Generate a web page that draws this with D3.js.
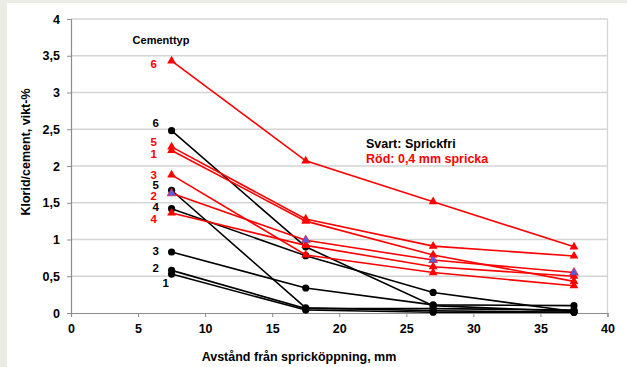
<!DOCTYPE html>
<html>
<head>
<meta charset="utf-8">
<script src="https://cdn.jsdelivr.net/npm/d3@7"></script>
<style>
  body { margin: 0; background: #ecece7; }
  text { font-family: "Liberation Sans", Arial, sans-serif; font-weight: bold; }
</style>
</head>
<body>
<div id="chart-container"></div>
<script>
'use strict';

// distances (mm)
const distances = [7.5, 17.5, 27, 37.5];
const cementTypes = ['1', '2', '3', '4', '5', '6'];

// black: crack free
const blackValues = [
  [0.53, 0.04, 0.01, 0.01],
  [0.58, 0.06, 0.06, 0.04],
  [0.83, 0.34, 0.11, 0.10],
  [1.42, 0.78, 0.28, 0.02],
  [1.67, 0.07, 0.03, 0.01],
  [2.48, 0.90, 0.10, 0.02]
];
// red: 0.4 mm crack
const redValues = [
  [2.21, 1.25, 0.79, 0.43],
  [1.63, 0.99, 0.72, 0.55],
  [1.88, 0.79, 0.55, 0.37],
  [1.36, 0.92, 0.63, 0.50],
  [2.26, 1.28, 0.91, 0.775],
  [3.43, 2.07, 1.515, 0.90]
];

const xTicks = [0, 5, 10, 15, 20, 25, 30, 35, 40];
const yTicks = [0, 0.5, 1, 1.5, 2, 2.5, 3, 3.5, 4];

// label nudges (px) so the type numbers don't collide
const blackNudge = [[10, 9], [0, -3], [0, -1], [0, -2], [0, -5], [0, -8]];
const redNudge = [[0, 3], [0, 3], [0, 0], [0, 6], [0, -5], [0, 3]];

const width = 627, height = 367;
const svg = d3.select('#chart-container')
  .append('svg')
  .attr('width', width)
  .attr('height', height);

svg.append('rect').attr('x', 7).attr('y', 3)
  .attr('width', width - 7).attr('height', height - 3)
  .attr('fill', '#ffffff');

const x = d3.scaleLinear().domain([0, 40]).range([71, 607.5]);
const y = d3.scaleLinear().domain([0, 4]).range([313, 19]);

// gridlines
svg.append('g').selectAll('line')
  .data(yTicks.slice(1))
  .enter().append('line')
  .attr('x1', x(0)).attr('x2', x(40))
  .attr('y1', d => y(d)).attr('y2', d => y(d))
  .attr('stroke', '#d4d4d4').attr('stroke-width', 1.3);

// right border
svg.append('line')
  .attr('x1', x(40)).attr('x2', x(40))
  .attr('y1', y(4)).attr('y2', y(0))
  .attr('stroke', '#d4d4d4').attr('stroke-width', 1.3);

const fmt = d => String(d).replace('.', ',');

const xAxis = svg.append('g')
  .attr('transform', 'translate(0,' + y(0) + ')')
  .call(d3.axisBottom(x).tickValues(xTicks).tickSize(4).tickPadding(7).tickFormat(fmt));
const yAxis = svg.append('g')
  .attr('transform', 'translate(' + x(0) + ',0)')
  .call(d3.axisLeft(y).tickValues(yTicks).tickSize(4).tickPadding(7).tickFormat(fmt));

[xAxis, yAxis].forEach(a => {
  a.select('.domain').attr('stroke', '#8c8c8c').attr('stroke-width', 1.2);
  a.selectAll('.tick line').attr('stroke', '#8c8c8c');
  a.selectAll('.tick text').attr('fill', '#000').style('font-size', '12.5px')
    .style('font-family', '"Liberation Sans", Arial, sans-serif').style('font-weight', 'bold');
});

const line = d3.line()
  .x((d, i) => x(distances[i]))
  .y(d => y(d));

const tri = d3.symbol().type(d3.symbolTriangle).size(34);

function drawSeries(values, colour, marker, markerFill) {
  const g = svg.append('g');
  g.append('path')
    .attr('d', line(values))
    .attr('fill', 'none')
    .attr('stroke', colour)
    .attr('stroke-width', 1.6);
  const pts = g.selectAll('.pt')
    .data(values)
    .enter();
  if (marker === 'circle') {
    pts.append('circle')
      .attr('cx', (d, i) => x(distances[i]))
      .attr('cy', d => y(d))
      .attr('r', 3.6)
      .attr('fill', markerFill);
  } else {
    pts.append('path')
      .attr('d', tri)
      .attr('transform', (d, i) => 'translate(' + x(distances[i]) + ',' + y(d) + ')')
      .attr('fill', markerFill)
      .attr('stroke', markerFill === colour ? 'none' : colour)
      .attr('stroke-width', 0.6);
  }
}

blackValues.forEach(v => drawSeries(v, '#000000', 'circle', '#000000'));
redValues.forEach((v, i) => {
  if (i !== 1) drawSeries(v, '#ff0000', 'triangle', '#ff0000');
});
drawSeries(redValues[1], '#ff0000', 'triangle', '#5a5ce0');

// type labels at the first distance
function drawLabels(values, nudge, colour, dx) {
  svg.append('g').selectAll('text')
    .data(values)
    .enter().append('text')
    .attr('x', (d, i) => x(distances[0]) - dx + nudge[i][0])
    .attr('y', (d, i) => y(d[0]) + nudge[i][1])
    .attr('dy', '0.36em')
    .attr('text-anchor', 'middle')
    .attr('fill', colour)
    .style('font-size', '11.5px')
    .text((d, i) => cementTypes[i]);
}
drawLabels(blackValues, blackNudge, '#000000', 16);
drawLabels(redValues, redNudge, '#ff0000', 18);

svg.append('text')
  .attr('x', 161).attr('y', 44)
  .attr('text-anchor', 'middle')
  .style('font-size', '11px')
  .text('Cementtyp');

svg.append('text')
  .attr('x', 366).attr('y', 148)
  .style('font-size', '12.5px')
  .attr('fill', '#000')
  .text('Svart: Sprickfri');
svg.append('text')
  .attr('x', 366).attr('y', 163)
  .style('font-size', '12.5px')
  .attr('fill', '#ff0000')
  .text('Röd: 0,4 mm spricka');

// axis titles
svg.append('text')
  .attr('x', 299).attr('y', 361)
  .attr('text-anchor', 'middle')
  .style('font-size', '12.5px')
  .text('Avstånd från spricköppning, mm');

svg.append('text')
  .attr('transform', 'translate(30,152) rotate(-90)')
  .attr('text-anchor', 'middle')
  .style('font-size', '12.5px')
  .text('Klorid/cement, vikt-%');
</script>
</body>
</html>
